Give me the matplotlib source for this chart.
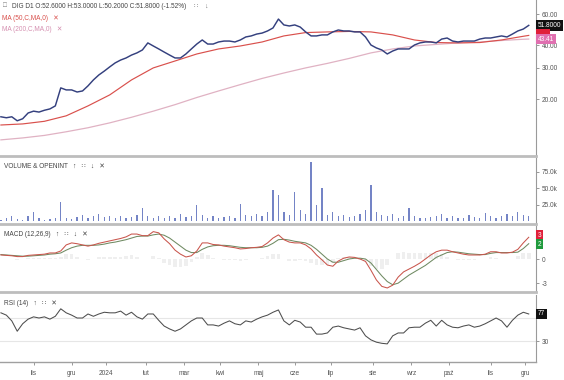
import numpy as np
import pandas as pd
import matplotlib
matplotlib.use('Agg')
import matplotlib.pyplot as plt
from matplotlib.ticker import FixedLocator, NullLocator

plt.rcParams['font.family'] = ['Liberation Sans', 'DejaVu Sans']

# ---------------- data ----------------
holidays = ['2023-11-01', '2023-12-25', '2023-12-26', '2024-01-01', '2024-03-29',
            '2024-04-01', '2024-05-01', '2024-05-03', '2024-05-30', '2024-08-15',
            '2024-11-01', '2024-11-11']
start_date = '2023-10-06'
end_date = '2024-12-04'
sample_step = 3  # one sample every 3 sessions

close = [15.9, 15.7, 15.9, 15.1, 15.5, 16.7, 17.1, 16.9, 17.3, 17.6,
         18.3, 23.1, 22.5, 22.5, 21.9, 22.2, 23.7, 25.6, 27.3, 28.7,
         30.3, 31.9, 33.1, 34.0, 35.3, 36.3, 37.7, 41.3, 39.7, 38.2,
         36.7, 35.3, 34.0, 34.0, 35.8, 38.2, 40.7, 42.9, 40.7, 40.7,
         41.8, 42.3, 42.3, 41.8, 42.9, 44.6, 45.2, 46.3, 46.9, 48.2,
         50.1, 56.2, 52.1, 51.4, 52.1, 50.7, 47.6, 45.2, 45.2, 45.8,
         45.8, 47.6, 48.8, 48.2, 48.2, 47.6, 47.6, 44.6, 40.2, 38.7,
         37.7, 35.8, 37.2, 38.2, 38.2, 38.2, 40.2, 41.3, 41.8, 41.8,
         41.3, 43.4, 44.0, 42.3, 41.8, 42.3, 42.3, 42.3, 43.4, 44.0,
         44.0, 44.6, 45.2, 44.6, 46.3, 48.2, 49.4, 51.8]

ma_step = 12
ma50 = [14.3, 14.5, 15.0, 16.1, 18.3, 21.1, 25.6, 29.9, 32.7, 35.8,
        38.2, 39.7, 41.8, 45.2, 47.2, 47.6, 47.9, 47.6, 45.8, 42.9,
        41.5, 41.3, 41.5, 42.9, 45.0, 45.5]
ma200 = [11.8, 12.1, 12.5, 13.1, 13.8, 14.7, 15.8, 17.1, 18.6, 20.4,
         22.2, 24.1, 26.1, 28.0, 29.9, 31.7, 33.8, 36.3, 38.2, 39.7,
         40.5, 41.3, 41.8, 42.6, 43.3, 43.41]

volume_k = [3, 6, 9, 4, 3, 8, 14, 5, 3, 4,
            6, 30, 5, 4, 7, 10, 6, 9, 12, 7,
            8, 6, 9, 5, 7, 10, 21, 8, 6, 9,
            5, 8, 6, 12, 7, 9, 25, 10, 6, 8,
            5, 7, 9, 6, 27, 10, 8, 12, 9, 14,
            48, 40, 15, 10, 45, 18, 12, 90, 25, 50,
            10, 15, 8, 10, 7, 9, 12, 18, 55, 15,
            10, 8, 12, 6, 9, 20, 8, 6, 5, 7,
            9, 11, 6, 8, 5, 6, 10, 7, 6, 13,
            8, 5, 9, 12, 8, 14, 10, 9]

macd = [0.5, 0.45, 0.4, 0.3, 0.3, 0.45, 0.5, 0.55, 0.6, 0.75,
        0.75, 1.0, 1.75, 2.0, 1.9, 1.75, 1.6, 1.75, 1.95, 2.1,
        2.25, 2.4, 2.55, 2.75, 3.1, 3.1, 2.9, 2.9, 3.4, 3.25,
        2.5, 1.9, 1.1, 0.6, 0.25, 0.4, 1.0, 2.0, 2.0, 1.8,
        1.75, 1.6, 1.5, 1.4, 1.25, 1.3, 1.4, 1.45, 1.55, 2.0,
        2.6, 3.0, 2.4, 2.1, 2.0, 2.0, 1.75, 1.25, 0.5, -0.1,
        -0.75, -0.9, -0.25, 0.1, 0.25, 0.2, 0.0, -0.3, -1.4, -2.6,
        -3.4, -3.6, -3.25, -2.25, -1.6, -1.25, -0.9, -0.5, 0.0, 0.5,
        0.9, 1.1, 1.1, 0.9, 0.75, 0.6, 0.5, 0.5, 0.5, 0.6,
        0.9, 0.9, 0.75, 0.75, 0.85, 1.2, 2.0, 2.7]
signal = [0.55, 0.5, 0.45, 0.4, 0.35, 0.35, 0.4, 0.45, 0.5, 0.6,
          0.65, 0.75, 1.1, 1.4, 1.6, 1.7, 1.7, 1.7, 1.75, 1.85,
          2.0, 2.1, 2.25, 2.4, 2.6, 2.8, 2.85, 2.85, 3.0, 3.1,
          2.95, 2.6, 2.1, 1.6, 1.1, 0.8, 0.8, 1.2, 1.5, 1.65,
          1.7, 1.7, 1.65, 1.55, 1.45, 1.4, 1.4, 1.4, 1.45, 1.6,
          1.95, 2.4, 2.45, 2.35, 2.2, 2.1, 2.0, 1.7, 1.2, 0.6,
          0.0, -0.4, -0.4, -0.2, 0.0, 0.1, 0.1, 0.0, -0.5, -1.3,
          -2.1, -2.8, -3.2, -3.0, -2.5, -2.0, -1.6, -1.2, -0.8, -0.3,
          0.2, 0.5, 0.8, 0.9, 0.85, 0.75, 0.65, 0.6, 0.55, 0.55,
          0.7, 0.8, 0.8, 0.8, 0.8, 0.85, 1.3, 1.9]

rsi = [79, 75, 65, 47, 60, 68, 72, 70, 72, 68,
       73, 86, 79, 75, 70, 70, 77, 73, 77, 80,
       79, 79, 82, 75, 80, 72, 68, 77, 77, 66,
       56, 51, 47, 51, 58, 65, 70, 70, 58, 58,
       56, 61, 65, 60, 58, 65, 63, 68, 72, 75,
       80, 84, 65, 58, 66, 63, 54, 54, 42, 42,
       44, 54, 56, 53, 51, 49, 53, 39, 32, 28,
       26, 25, 39, 44, 44, 53, 54, 54, 61, 66,
       56, 66, 58, 54, 53, 56, 58, 54, 56, 60,
       65, 70, 65, 54, 66, 75, 80, 77]

month_names = ['sty', 'lut', 'mar', 'kwi', 'maj', 'cze', 'lip', 'sie', 'wrz',
               'paź', 'lis', 'gru']

title_main = 'DIG D1 O:52.6000 H:53.0000 L:50.2000 C:51.8000 (-1.52%)'
ma50_label = 'MA (50,C,MA,0)'
ma200_label = 'MA (200,C,MA,0)'
last_close_label = '51.8000'
ma200_last_label = '43.41'
rsi_last_label = '77'
macd_last_label = '3'
signal_last_label = '2'

# ---------------- derived positions ----------------
days = pd.bdate_range(start_date, end_date, freq='C', holidays=holidays)
n_days = len(days)
px = np.arange(0, n_days, sample_step)[:len(close)]
ma_x = np.r_[np.arange(0, n_days - 3, ma_step), n_days - 1][:len(ma50)]

month_pos, month_lab = [], []
for i in range(1, n_days):
    if days[i].month != days[i - 1].month:
        month_pos.append(i)
        month_lab.append(str(days[i].year) if days[i].month == 1 else month_names[days[i].month - 1])

# ---------------- figure ----------------
W, H = 564, 380
fig = plt.figure(figsize=(W / 100, H / 100), dpi=100)
fig.patch.set_facecolor('white')

def rect(top, bottom, right=536):
    return [0.0, 1 - bottom / H, right / W, (bottom - top) / H]

ax_p = fig.add_axes(rect(0, 156))
ax_v = fig.add_axes(rect(158, 224), sharex=ax_p)
ax_m = fig.add_axes(rect(226, 292), sharex=ax_p)
ax_r = fig.add_axes(rect(295, 362), sharex=ax_p)

FS = 4.7
TXT = '#555555'
SEP = '#bdbdbd'

for ax in (ax_p, ax_v, ax_m, ax_r):
    ax.set_facecolor('white')
    ax.spines['left'].set_visible(False)
    ax.spines['top'].set_visible(False)
    ax.spines['right'].set_color('#9a9a9a')
    ax.spines['right'].set_linewidth(0.8)
    ax.spines['bottom'].set_color(SEP)
    ax.spines['bottom'].set_linewidth(2.0)
    ax.yaxis.tick_right()
    ax.tick_params(axis='y', direction='out', length=2.5, width=0.6, colors='#888888',
                   labelsize=FS, labelcolor=TXT, pad=1.5)
    ax.tick_params(axis='x', bottom=False, labelbottom=False)
ax_r.spines['bottom'].set_linewidth(1.0)
ax_r.spines['bottom'].set_color('#a0a0a0')
ax_p.set_xlim(-0.5, 295)

# ---- price panel ----
ax_p.set_yscale('log')
ax_p.plot(ma_x, ma200, color='#e0b2c3', lw=0.9)
ax_p.plot(ma_x, ma50, color='#d9504c', lw=0.85)
ax_p.plot(px, close, color='#34407e', lw=1.05)
ax_p.set_ylim(9.58, 71.9)
ax_p.yaxis.set_major_locator(FixedLocator([20, 30, 40, 60]))
ax_p.yaxis.set_minor_locator(NullLocator())
ax_p.set_yticklabels(['20.00', '30.00', '40.00', '60.00'])

ax_p.text(0.006, 0.985, '\u25a1', transform=ax_p.transAxes, fontsize=FS, color='#777777', va='top', ha='left')
ax_p.text(0.022, 0.982, title_main, transform=ax_p.transAxes, fontsize=FS, color='#444444', va='top', ha='left')
ax_p.text(0.362, 0.982, '\u2237    \u2193', transform=ax_p.transAxes, fontsize=FS, color='#777777', va='top', ha='left')
ax_p.text(0.004, 0.905, ma50_label + '   \u2715', transform=ax_p.transAxes, fontsize=FS, color='#d9504c', va='top', ha='left')
ax_p.text(0.004, 0.835, ma200_label + '   \u2715', transform=ax_p.transAxes, fontsize=FS, color='#d58fb0', va='top', ha='left')

def tag(ax, yval, text, face, tcolor='white'):
    ax.annotate(text, xy=(1.0, yval), xycoords=('axes fraction', 'data'),
                xytext=(1.5, 0), textcoords='offset points', ha='left', va='center',
                fontsize=FS, color=tcolor, annotation_clip=False,
                bbox=dict(boxstyle='square,pad=0.25', fc=face, ec='none'))

tag(ax_p, close[-1], last_close_label, '#111111')
tag(ax_p, ma50[-1] * 1.02, '      ', '#e0203a')
tag(ax_p, ma200[-1], ma200_last_label, '#e070b0')

# ---- volume panel ----
ax_v.bar(px, volume_k, width=0.7, color='#7484c6', linewidth=0)
ax_v.set_ylim(-3.8, 96)
ax_v.yaxis.set_major_locator(FixedLocator([25, 50, 75]))
ax_v.set_yticklabels(['25.0k', '50.0k', '75.0k'])
ax_v.text(0.008, 0.93, 'VOLUME & OPENINT   \u2191   \u2237   \u2193   \u2715', transform=ax_v.transAxes,
          fontsize=FS, color='#444444', va='top', ha='left')

# ---- MACD panel ----
hist = np.array(macd) - np.array(signal)
ax_m.bar(px, hist, width=2.0, color='#efefef', linewidth=0)
ax_m.plot(px, signal, color='#6f8a62', lw=0.75)
ax_m.plot(px, macd, color='#c9554c', lw=0.75)
ax_m.set_ylim(-4.1, 4.1)
ax_m.yaxis.set_major_locator(FixedLocator([-3, 0]))
ax_m.set_yticklabels(['-3', '0'])
ax_m.text(0.008, 0.93, 'MACD (12,26,9)   \u2191   \u2237   \u2193   \u2715', transform=ax_m.transAxes,
          fontsize=FS, color='#444444', va='top', ha='left')
tag(ax_m, 2.95, macd_last_label, '#e0203a')
tag(ax_m, 1.85, signal_last_label, '#1f9a3c')

# ---- RSI panel ----
ax_r.axhline(70, color='#e6e6e6', lw=0.8)
ax_r.axhline(30, color='#e6e6e6', lw=0.8)
ax_r.plot(px, rsi, color='#4d4d4d', lw=0.75)
ax_r.set_ylim(-6.5, 110)
ax_r.yaxis.set_major_locator(FixedLocator([30]))
ax_r.set_yticklabels(['30'])
ax_r.text(0.008, 0.93, 'RSI (14)   \u2191   \u2237   \u2715', transform=ax_r.transAxes,
          fontsize=FS, color='#444444', va='top', ha='left')
tag(ax_r, rsi[-1], rsi_last_label, '#111111')

ax_r.set_xticks(month_pos)
ax_r.set_xticklabels(month_lab)
ax_r.tick_params(axis='x', bottom=True, labelbottom=True, direction='out', length=2.5,
                 width=0.6, colors='#888888', labelsize=FS, labelcolor=TXT, pad=3)

fig.savefig('out.png', dpi=100, facecolor='white')
